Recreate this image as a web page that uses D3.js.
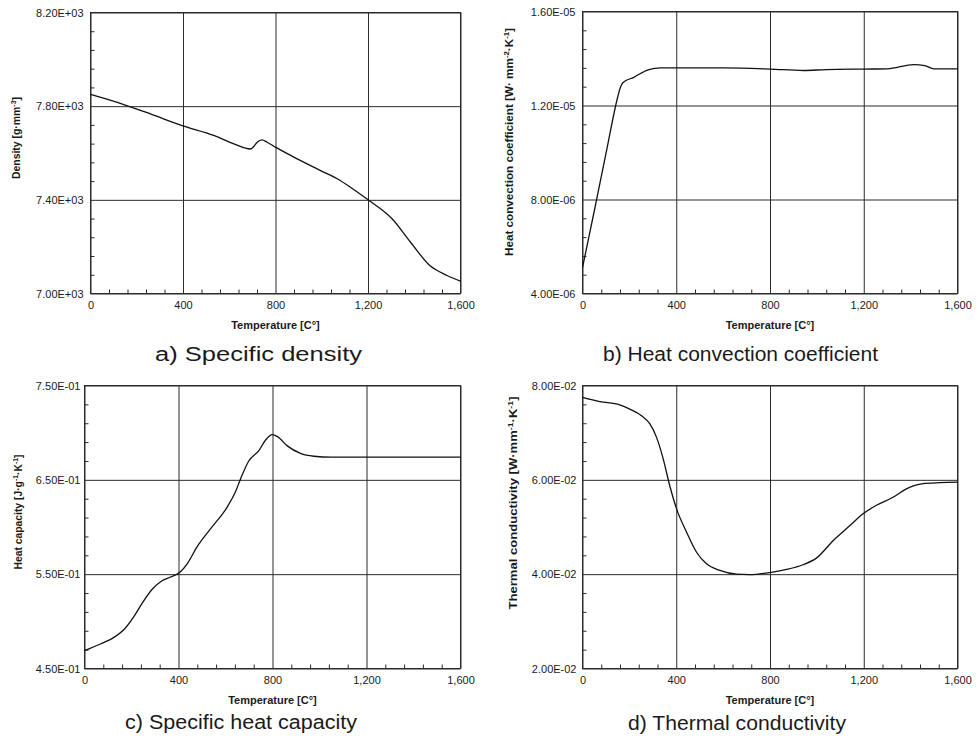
<!DOCTYPE html>
<html>
<head>
<meta charset="utf-8">
<script src="https://cdn.jsdelivr.net/npm/d3@7"></script>
<style>
  html, body { margin: 0; padding: 0; background: #fff; }
  svg { display: block; }
  text { font-family: "Liberation Sans", Arial, sans-serif; fill: #1a1a1a; }
</style>
</head>
<body>
<svg id="chart" width="979" height="747"></svg>
<script>
// ---------------- data ----------------
const xTicks = [0, 400, 800, 1200, 1600];

// a) Specific density
const densityT = [0, 144, 259, 396, 533, 620, 692, 706, 721, 742, 764, 800, 894, 995, 1067, 1124, 1199, 1304, 1384, 1470, 1542, 1600];
const densityV = [7850, 7807, 7767, 7717, 7675, 7639, 7617, 7628, 7646, 7656, 7646, 7625, 7575, 7525, 7490, 7454, 7401, 7319, 7219, 7117, 7077, 7053];
const densityTicks = [7000, 7400, 7800, 8200];

// b) Heat convection coefficient
const convT = [0, 50, 100, 150, 160, 172, 219, 283, 333, 400, 600, 800, 944, 1040, 1200, 1300, 1414, 1460, 1499, 1600];
const convV = [5.1e-6, 7.5e-6, 9.95e-6, 12.35e-6, 12.72e-6, 12.97e-6, 13.2e-6, 13.53e-6, 13.6e-6, 13.6e-6, 13.6e-6, 13.55e-6, 13.49e-6, 13.53e-6, 13.55e-6, 13.56e-6, 13.74e-6, 13.70e-6, 13.56e-6, 13.56e-6];
const convTicks = [4e-6, 8e-6, 12e-6, 16e-6];

// c) Specific heat capacity
const heatT = [0, 68, 125, 167, 210, 245, 288, 330, 366, 406, 437, 479, 536, 607, 642, 664, 699, 742, 770, 799, 820, 863, 919, 976, 1050, 1200, 1400, 1600];
const heatV = [0.469, 0.476, 0.483, 0.491, 0.505, 0.519, 0.534, 0.543, 0.547, 0.552, 0.561, 0.579, 0.598, 0.621, 0.637, 0.651, 0.670, 0.681, 0.692, 0.698, 0.696, 0.686, 0.678, 0.675, 0.674, 0.674, 0.674, 0.674];
const heatTicks = [0.45, 0.55, 0.65, 0.75];

// d) Thermal conductivity
const condT = [0, 74, 159, 202, 252, 287, 316, 344, 372, 401, 444, 486, 529, 586, 657, 714, 806, 870, 941, 998, 1069, 1141, 1197, 1254, 1325, 1382, 1453, 1525, 1600];
const condV = [0.0775, 0.0766, 0.0759, 0.0750, 0.0736, 0.0719, 0.0690, 0.0645, 0.0588, 0.0539, 0.0489, 0.0447, 0.0422, 0.0408, 0.0400, 0.0399, 0.0404, 0.0410, 0.0420, 0.0434, 0.0471, 0.0503, 0.0528, 0.0546, 0.0563, 0.0581, 0.0592, 0.0594, 0.0595];
const condTicks = [0.02, 0.04, 0.06, 0.08];

const xTitle = "Temperature [C°]";

// ---------------- layout ----------------
const panels = [
  { T: densityT, V: densityV, yt: densityTicks, minorDiv: 5,
    x0: 90.5, x1: 460.5, y0: 12.5, y1: 293.5,
    ytitle: [["Density [g·mm"], ["-3", true], ["]"]], ytx: 16, yty: 138, ytLen: 82,
    cap: "a) Specific density", capX: 155, capY: 361, capLen: 207,
    labPad: 7 },
  { T: convT, V: convV, yt: convTicks, minorDiv: 5,
    x0: 582.5, x1: 957.5, y0: 11.5, y1: 293.5,
    ytitle: [["Heat convection coefficient [W· mm"], ["-2", true], ["·K"], ["-1", true], ["]"]], ytx: 509, yty: 142, ytLen: 228,
    cap: "b) Heat convection coefficient", capX: 603, capY: 361, capLen: 275,
    labPad: 7 },
  { T: heatT, V: heatV, yt: heatTicks, minorDiv: 5,
    x0: 84.5, x1: 460.5, y0: 385.5, y1: 668.5,
    ytitle: [["Heat capacity [J·g"], ["-1", true], ["·K"], ["-1", true], ["]"]], ytx: 18, yty: 512, ytLen: 115,
    cap: "c) Specific heat capacity", capX: 125, capY: 729, capLen: 232,
    labPad: 4 },
  { T: condT, V: condV, yt: condTicks, minorDiv: 5,
    x0: 582.5, x1: 957.5, y0: 385.5, y1: 668.5,
    ytitle: [["Thermal conductivity [W·mm"], ["-1", true], ["·K"], ["-1", true], ["]"]], ytx: 513, yty: 503, ytLen: 213,
    cap: "d) Thermal conductivity", capX: 628, capY: 730, capLen: 218,
    labPad: 6 }
];

function expFmt(v) {
  const s = d3.format(".2e")(v);           // e.g. 8.20e+3
  const m = s.match(/^(-?[\d.]+)e([+-])(\d+)$/);
  const e = m[3].length < 2 ? "0" + m[3] : m[3];
  return m[1] + "E" + m[2] + e;
}

const svg = d3.select("#chart");
const gridColor = "#2b2b2b";

panels.forEach(p => {
  const g = svg.append("g");
  const x = d3.scaleLinear().domain([0, 1600]).range([p.x0, p.x1]);
  const y = d3.scaleLinear().domain([p.yt[0], p.yt[p.yt.length - 1]]).range([p.y1, p.y0]);
  const W = p.x1 - p.x0, H = p.y1 - p.y0;

  // minor ticks (inward)
  const xMinor = d3.range(0, 1600 + 1e-9, 80).filter(v => v % 400 !== 0);
  const yStep = (p.yt[1] - p.yt[0]) / p.minorDiv;
  const yMinor = d3.range(1, (p.yt.length - 1) * p.minorDiv).filter(i => i % p.minorDiv !== 0).map(i => p.yt[0] + i * yStep);

  const xm = g.append("g").attr("transform", `translate(0,${p.y1})`)
    .call(d3.axisBottom(x).tickValues(xMinor).tickSize(-4).tickFormat(""));
  xm.select(".domain").remove();
  xm.selectAll("line").attr("stroke", gridColor);

  const ym = g.append("g").attr("transform", `translate(${p.x0},0)`)
    .call(d3.axisLeft(y).tickValues(yMinor).tickSize(-4).tickFormat(""));
  ym.select(".domain").remove();
  ym.selectAll("line").attr("stroke", gridColor);

  // major grid + labels
  const xa = g.append("g").attr("transform", `translate(0,${p.y1})`)
    .call(d3.axisBottom(x).tickValues(xTicks).tickSize(-H).tickPadding(8).tickFormat(d3.format(",")));
  xa.select(".domain").remove();
  xa.selectAll("line").attr("stroke", gridColor);
  xa.selectAll("text").attr("font-size", 11).attr("fill", "#222")
    .style("font-family", '"Liberation Sans", Arial, sans-serif');

  const ya = g.append("g").attr("transform", `translate(${p.x0},0)`)
    .call(d3.axisLeft(y).tickValues(p.yt).tickSize(-W).tickPadding(p.labPad).tickFormat(expFmt));
  ya.select(".domain").remove();
  ya.selectAll("line").attr("stroke", gridColor);
  ya.selectAll("text").attr("font-size", 11).attr("fill", "#222")
    .style("font-family", '"Liberation Sans", Arial, sans-serif');

  // frame
  g.append("rect").attr("x", p.x0).attr("y", p.y0).attr("width", W).attr("height", H)
    .attr("fill", "none").attr("stroke", gridColor).attr("stroke-width", 1);

  // curve
  const pts = p.T.map((t, i) => [t, p.V[i]]);
  g.append("path").datum(pts)
    .attr("d", d3.line().x(d => x(d[0])).y(d => y(d[1])).curve(d3.curveMonotoneX))
    .attr("fill", "none").attr("stroke", "#111").attr("stroke-width", 1.3);

  // x title
  g.append("text").attr("x", (p.x0 + p.x1) / 2).attr("y", p.y1 + 35)
    .attr("text-anchor", "middle").attr("font-size", 11).attr("font-weight", "bold")
    .text(xTitle);

  // y title (rotated)
  const yt = g.append("text")
    .attr("transform", `translate(${p.ytx},${p.yty}) rotate(-90)`)
    .attr("text-anchor", "middle").attr("font-size", 10.5).attr("font-weight", "bold")
    .attr("dy", "0.35em")
    .attr("textLength", p.ytLen).attr("lengthAdjust", "spacingAndGlyphs");
  let sup = false;
  p.ytitle.forEach(([s, isSup]) => {
    const ts = yt.append("tspan").text(s);
    if (isSup && !sup) { ts.attr("dy", -4).attr("font-size", 7); sup = true; }
    else if (isSup && sup) { ts.attr("font-size", 7); }
    else if (!isSup && sup) { ts.attr("dy", 4); sup = false; }
  });

  // caption
  g.append("text").attr("x", p.capX).attr("y", p.capY)
    .attr("font-size", 20).attr("fill", "#111")
    .attr("textLength", p.capLen).attr("lengthAdjust", "spacingAndGlyphs")
    .text(p.cap);
});
</script>
</body>
</html>
